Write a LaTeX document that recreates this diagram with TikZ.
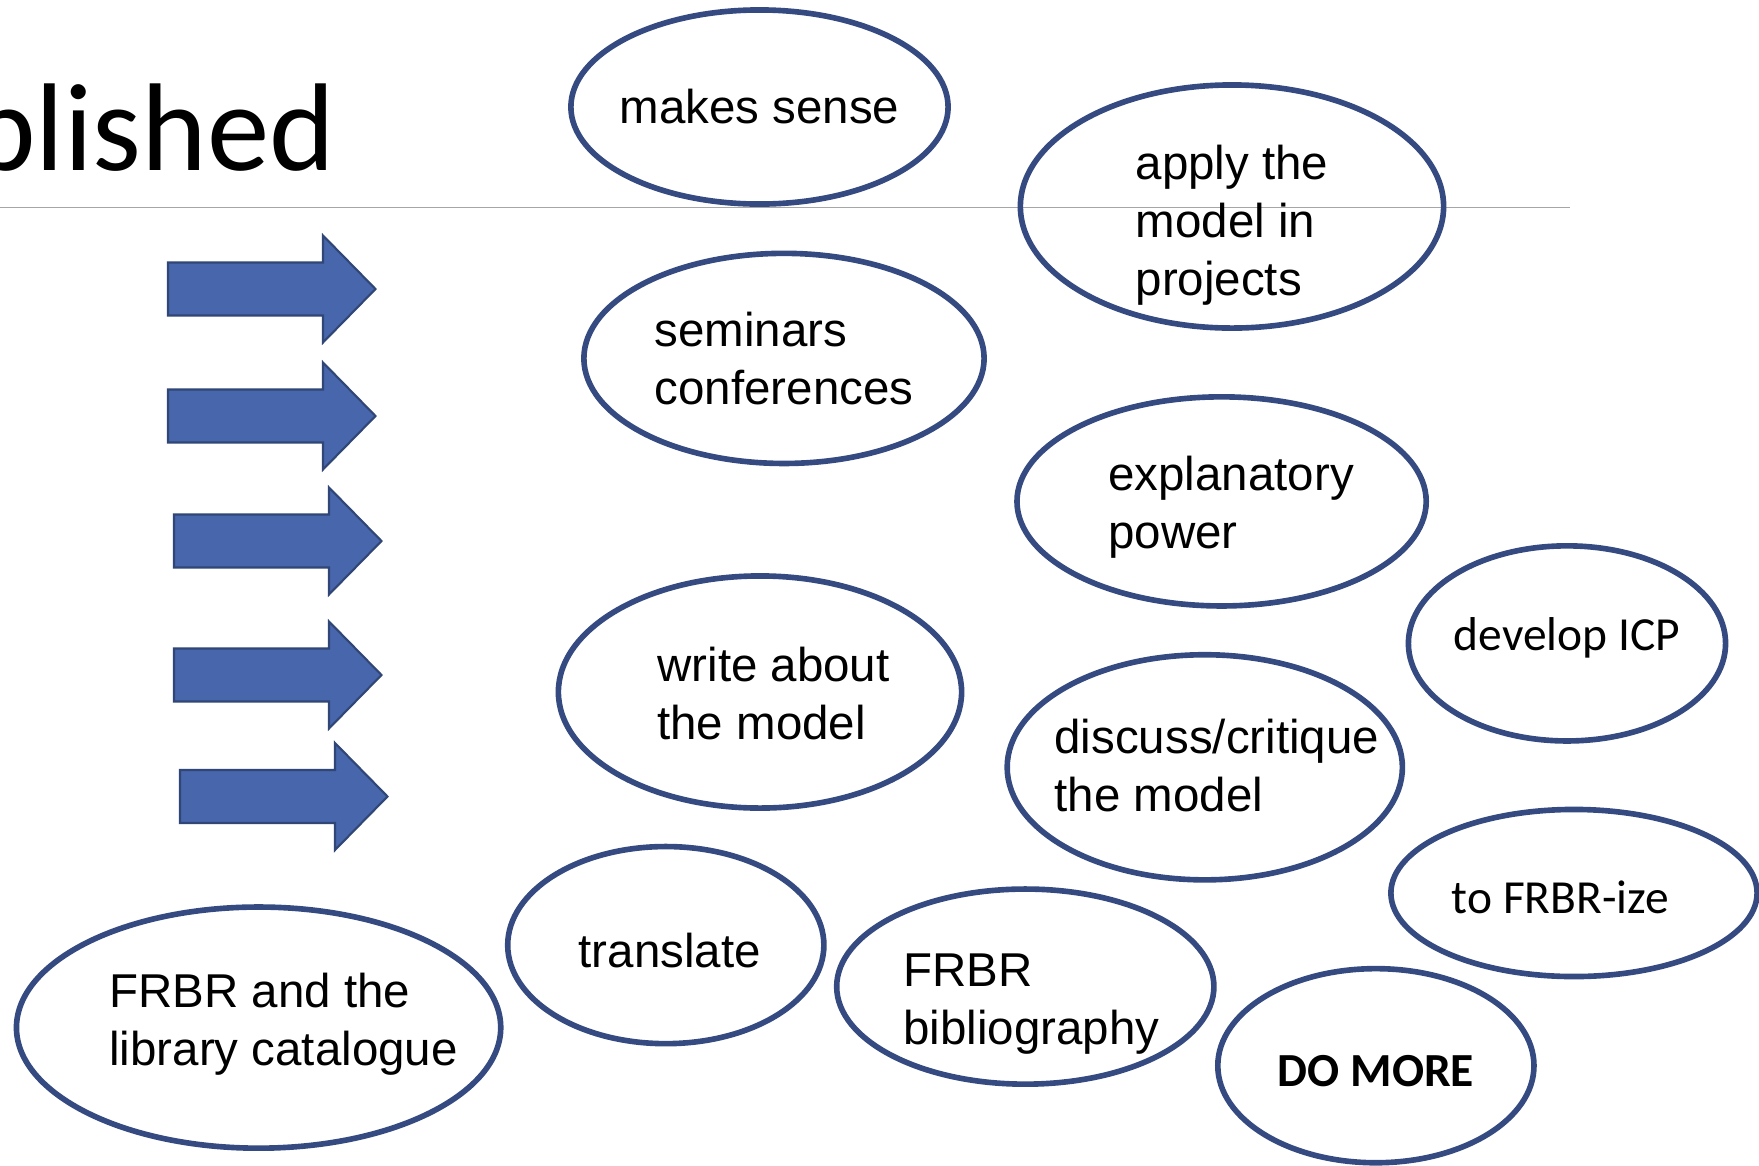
\documentclass[tikz,border=0pt]{standalone}
\usepackage{fontspec}
\setmainfont{Liberation Sans}
\newfontfamily\calibri{Carlito}
\usetikzlibrary{shapes.geometric}
\definecolor{ringblue}{RGB}{52,74,128}
\definecolor{arrowfill}{RGB}{72,102,172}
\definecolor{arrowline}{RGB}{47,70,118}
\tikzset{
  bubble/.style={ellipse, draw=ringblue, line width=1.6pt, inner sep=0pt},
  bubtext/.style={align=left, inner sep=0pt, font=\fontsize{13.5}{16.5}\selectfont},
  fatarrow/.style={fill=arrowfill, draw=arrowline, line width=0.6pt, line join=miter},
}
\begin{document}
\begin{tikzpicture}[x=0.01cm, y=-0.01cm]
  \fill[white] (0,0) rectangle (1759,1166);
  \useasboundingbox (0,0) rectangle (1759,1166);
  % heading and rule
  \node[anchor=base east, inner sep=0pt, font=\calibri\fontsize{35.5}{40}\selectfont] (title) at (336,170.5) {blished};
  \coordinate (ruleL) at (0,207.5);
  \coordinate (ruleR) at (1570,207.5);
  \draw[gray!70, line width=0.4pt] (ruleL) -- (ruleR);
  % block arrows
  \draw[fatarrow] (168,289) ++(0,-26.5) -- ++(155,0) -- ++(0,-27) -- ++(52.5,53.5) -- ++(-52.5,53.5) -- ++(0,-27) -- ++(-155,0) -- cycle;
  \draw[fatarrow] (168,416) ++(0,-26.5) -- ++(155,0) -- ++(0,-27) -- ++(52.5,53.5) -- ++(-52.5,53.5) -- ++(0,-27) -- ++(-155,0) -- cycle;
  \draw[fatarrow] (174,541) ++(0,-26.5) -- ++(155,0) -- ++(0,-27) -- ++(52.5,53.5) -- ++(-52.5,53.5) -- ++(0,-27) -- ++(-155,0) -- cycle;
  \draw[fatarrow] (174,675) ++(0,-26.5) -- ++(155,0) -- ++(0,-27) -- ++(52.5,53.5) -- ++(-52.5,53.5) -- ++(0,-27) -- ++(-155,0) -- cycle;
  \draw[fatarrow] (180,796.5) ++(0,-26.5) -- ++(155,0) -- ++(0,-27) -- ++(52.5,53.5) -- ++(-52.5,53.5) -- ++(0,-27) -- ++(-155,0) -- cycle;
  % bubbles
  \node[bubble, minimum width=3.77cm, minimum height=1.94cm, label={[bubtext]center:makes sense}] (sense) at (759.5,107) {};
  \node[bubble, minimum width=4.23cm, minimum height=2.43cm, label={[bubtext, yshift=-1.9mm]center:apply the\\model in\\projects}] (apply) at (1232,206.5) {};
  \node[bubble, minimum width=4.00cm, minimum height=2.10cm, label={[bubtext]center:seminars\\conferences}] (seminars) at (784,358.4) {};
  \node[bubble, minimum width=4.09cm, minimum height=2.09cm, label={[bubtext, xshift=0.95mm, yshift=-0.6mm]center:explanatory\\power}] (explan) at (1221.6,501.4) {};
  \node[bubble, minimum width=3.17cm, minimum height=1.95cm, label={[bubtext, yshift=0.6mm]center:\calibri develop ICP}] (icp) at (1567,643.4) {};
  \node[bubble, minimum width=4.03cm, minimum height=2.32cm, label={[bubtext, xshift=1.35mm, yshift=-0.2mm]center:write about\\the model}] (write) at (760,692) {};
  \node[bubble, minimum width=3.95cm, minimum height=2.25cm, label={[bubtext, xshift=1.2mm, yshift=0.2mm]center:discuss/critique\\the model}] (discuss) at (1204.8,767.3) {};
  \node[bubble, minimum width=3.66cm, minimum height=1.67cm, label={[bubtext, xshift=-1.35mm, yshift=-0.45mm]center:\calibri to FRBR-ize}] (frbrize) at (1574,893) {};
  \node[bubble, minimum width=3.16cm, minimum height=1.97cm, label={[bubtext, xshift=0.4mm, yshift=-0.5mm]center:translate}] (translate) at (665.8,945.1) {};
  \node[bubble, minimum width=3.77cm, minimum height=1.95cm, label={[bubtext, xshift=0.6mm, yshift=-1.75mm]center:FRBR\\bibliography}] (bib) at (1025.3,986.6) {};
  \node[bubble, minimum width=4.84cm, minimum height=2.41cm, label={[bubtext, xshift=2.5mm, yshift=0.35mm]center:FRBR and the\\library catalogue}] (cat) at (258.6,1027.6) {};
  \node[bubble, minimum width=3.16cm, minimum height=1.94cm, label={[bubtext, yshift=-0.55mm]center:\calibri\bfseries DO MORE}] (more) at (1375.9,1065.7) {};
\end{tikzpicture}
\end{document}
